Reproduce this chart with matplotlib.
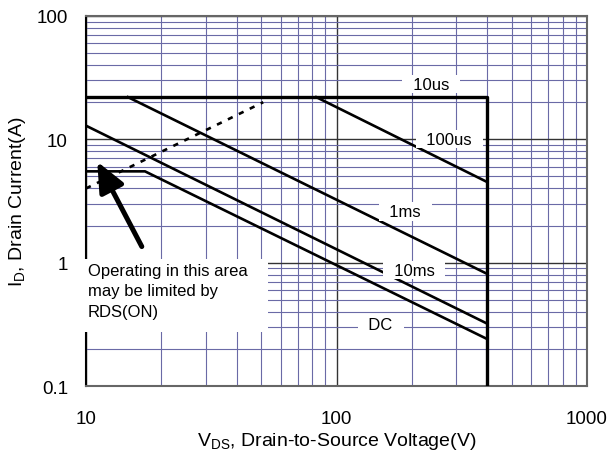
import matplotlib
matplotlib.use("Agg")
import matplotlib.pyplot as plt
from matplotlib.ticker import FixedLocator, FixedFormatter, NullFormatter, LogLocator
from matplotlib.patches import Rectangle

plt.rcParams['font.family'] = ['Liberation Sans', 'DejaVu Sans']

# SOA curves (V, A)
vds_10us = [10, 400, 400]
id_10us = [22, 22, 0.1]
vds_100us = [83, 400]
id_100us = [22, 4.5]
vds_1ms = [14.7, 400]
id_1ms = [22, 0.81]
vds_10ms = [10, 400]
id_10ms = [12.9, 0.32]
vds_dc = [10, 17.2, 400]
id_dc = [5.5, 5.5, 0.24]
vds_rds = [10, 51]
id_rds = [4, 20]

curve_labels = ['10us', '100us', '1ms', '10ms', 'DC']
label_x = [238, 282, 188, 204, 150]
label_y = [28, 10, 2.6, 0.87, 0.318]

x_ticks = [10, 100, 1000]
y_ticks = [0.1, 1, 10, 100]

fig = plt.figure(figsize=(6.13, 4.52), dpi=100)
ax = fig.add_axes([0.1403, 0.1438, 0.8173, 0.8186])
ax.set_xscale('log')
ax.set_yscale('log')
ax.set_xlim(10, 1000)
ax.set_ylim(0.1, 100)

ax.xaxis.set_major_locator(FixedLocator(x_ticks))
ax.xaxis.set_major_formatter(FixedFormatter([str(v) for v in x_ticks]))
ax.yaxis.set_major_locator(FixedLocator(y_ticks))
ax.yaxis.set_major_formatter(FixedFormatter(['0.1', '1', '10', '100']))
ax.xaxis.set_minor_locator(LogLocator(base=10, subs=range(2, 10)))
ax.yaxis.set_minor_locator(LogLocator(base=10, subs=range(2, 10)))
ax.xaxis.set_minor_formatter(NullFormatter())
ax.yaxis.set_minor_formatter(NullFormatter())
ax.tick_params(which='both', length=0)
ax.tick_params(axis='x', labelsize=13.5, pad=17)
ax.tick_params(axis='y', labelsize=13.5, pad=13)

ax.grid(which='minor', color='#6a6aa6', lw=0.8)
ax.grid(which='major', color='#333333', lw=1.0)
ax.set_axisbelow(True)

for s in ax.spines.values():
    s.set_color('#666666')
    s.set_linewidth(1.5)
ax.spines['left'].set_color('black')

ax.plot(vds_10us, id_10us, color='black', lw=2.4, zorder=3)
ax.plot(vds_100us, id_100us, color='black', lw=1.9, zorder=3)
ax.plot(vds_1ms, id_1ms, color='black', lw=1.9, zorder=3)
ax.plot(vds_10ms, id_10ms, color='black', lw=1.9, zorder=3)
ax.plot(vds_dc, id_dc, color='black', lw=1.9, zorder=3)
ax.plot(vds_rds, id_rds, color='black', lw=1.9, ls=(0, (2, 2.6)), zorder=3)

for lab, lx, ly in zip(curve_labels, label_x, label_y):
    ax.text(lx, ly, '  ' + lab + '  ', fontsize=12, ha='center', va='center', zorder=4,
            bbox=dict(boxstyle='square,pad=0.1', facecolor='white', edgecolor='none'))

# white box for the note
ax.add_patch(Rectangle((-0.014, 0.145), 0.377, 0.198, transform=ax.transAxes,
                       facecolor='white', edgecolor='none', clip_on=False, zorder=4))
ax.text(0.004, 0.333, 'Operating in this area\nmay be limited by\nRDS(ON)', transform=ax.transAxes,
        fontsize=12, ha='left', va='top', linespacing=1.45, zorder=5)
ax.annotate('', xy=(10.96, 6.9), xytext=(16.9, 1.29),
            arrowprops=dict(arrowstyle='-|>,head_length=0.9,head_width=0.4', lw=3.6,
                            color='black', mutation_scale=20), zorder=5)

ax.set_xlabel(r'$\mathregular{V_{DS}}$, Drain-to-Source Voltage(V)', fontsize=14)
ax.set_ylabel(r'$\mathregular{I_D}$, Drain Current(A)', fontsize=14)
ax.xaxis.set_label_coords(0.5, -0.12)
ax.yaxis.set_label_coords(-0.115, 0.5)

plt.savefig('out.png', dpi=100)
